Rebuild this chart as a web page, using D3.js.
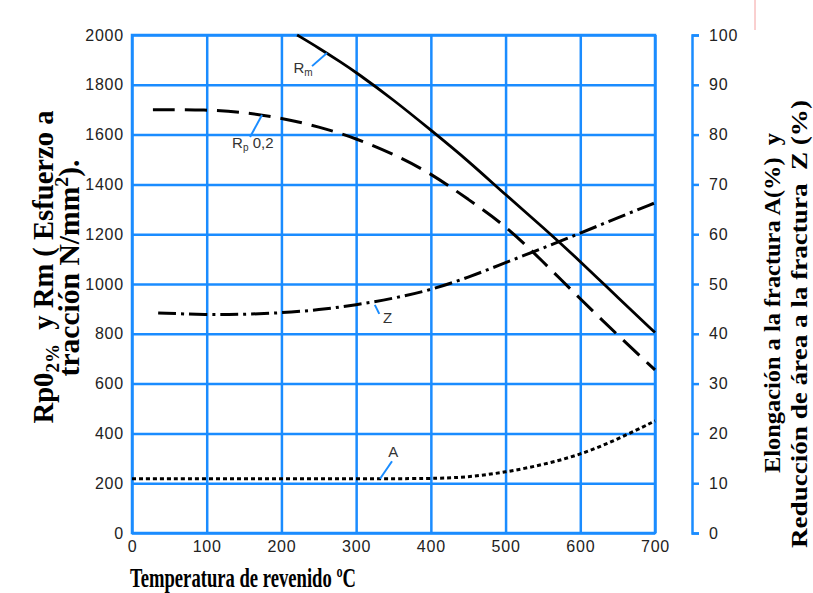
<!DOCTYPE html>
<html>
<head>
<meta charset="utf-8">
<script src="https://cdn.jsdelivr.net/npm/d3@7"></script>
<style>
  body { margin: 0; background: #fff; }
  text { font-family: "Liberation Sans", Arial, sans-serif; }
  .ttl { font-family: "Liberation Serif", "Times New Roman", serif; font-weight: bold; fill: #000; }
</style>
</head>
<body>
<script>
// ticks
var tempTicks = [0, 100, 200, 300, 400, 500, 600, 700];
var stressTicks = [0, 200, 400, 600, 800, 1000, 1200, 1400, 1600, 1800, 2000];
var pctTicks = [0, 10, 20, 30, 40, 50, 60, 70, 80, 90, 100];

// Rm (N/mm2), solid
var rmTemp = [221, 250, 280, 300, 350, 400, 450, 500, 550, 600, 650, 700];
var rmVals = [2000, 1948, 1890, 1850, 1740, 1618, 1495, 1358, 1228, 1091, 946, 805];

// Rp0,2 (N/mm2), dashed
var rpTemp = [28, 100, 150, 200, 250, 300, 350, 400, 450, 500, 550, 600, 650, 700];
var rpVals = [1700, 1700, 1690, 1667, 1632, 1585, 1522, 1445, 1340, 1235, 1090, 940, 795, 655];

// Z (%), dash-dot, right axis
var zTemp = [35, 100, 150, 200, 250, 300, 350, 400, 450, 500, 550, 600, 650, 700];
var zVals = [44.2, 43.8, 43.9, 44.2, 44.8, 45.8, 47.1, 48.8, 51.3, 54.3, 57.2, 60.2, 63.3, 66.3];

// A (%), dotted, right axis
var aTemp = [0, 100, 200, 300, 400, 450, 500, 550, 600, 650, 700];
var aVals = [10.9, 10.9, 10.9, 10.9, 10.9, 11.2, 12.2, 13.7, 15.7, 18.8, 22.5];

var W = 813, H = 593;
var svg = d3.select("body").append("svg").attr("width", W).attr("height", H);

var blue = "#1a8cff";
var x = d3.scaleLinear().domain([0, 700]).range([132, 655]);
var yL = d3.scaleLinear().domain([0, 2000]).range([533, 35]);
var yR = d3.scaleLinear().domain([0, 100]).range([533, 35]);
var fmt = d3.format("d");

// grid + tick labels
var gx = svg.append("g")
   .attr("transform", "translate(0,533)")
   .call(d3.axisBottom(x).tickValues(tempTicks).tickFormat(fmt)
         .tickSize(-(533 - 35)).tickSizeOuter(0).tickPadding(8));
var gy = svg.append("g")
   .attr("transform", "translate(132,0)")
   .call(d3.axisLeft(yL).tickValues(stressTicks).tickFormat(fmt)
         .tickSize(-(655 - 132)).tickSizeOuter(0).tickPadding(8));
[gx, gy].forEach(function(g) {
  g.select(".domain").remove();
  g.selectAll(".tick line").attr("stroke", blue).attr("stroke-width", 2.5);
  g.selectAll(".tick text").attr("fill", "#222").attr("font-size", "16px").attr("letter-spacing", "0.8px")
   .attr("font-family", "'Liberation Sans', Arial, sans-serif");
});

svg.append("rect")
   .attr("x", x(0)).attr("y", yL(2000))
   .attr("width", x(700) - x(0)).attr("height", yL(0) - yL(2000))
   .attr("fill", "none").attr("stroke", blue).attr("stroke-width", 2.5);

// right axis
var gr = svg.append("g")
   .attr("transform", "translate(692,0)")
   .call(d3.axisRight(yR).tickValues(pctTicks).tickFormat(fmt)
         .tickSize(7).tickSizeOuter(7).tickPadding(10));
gr.select(".domain").attr("stroke", blue).attr("stroke-width", 2.5);
gr.selectAll(".tick line").attr("stroke", blue).attr("stroke-width", 2.5);
gr.selectAll(".tick text").attr("fill", "#222").attr("font-size", "16px").attr("letter-spacing", "0.8px")
  .attr("font-family", "'Liberation Sans', Arial, sans-serif");

// curves
function drawCurve(ts, vs, ys, dash, w) {
  var line = d3.line()
     .x(function(d) { return x(d[0]); })
     .y(function(d) { return ys(d[1]); })
     .curve(d3.curveBasis);
  svg.append("path")
     .datum(d3.zip(ts, vs))
     .attr("d", line)
     .attr("fill", "none")
     .attr("stroke", "#000")
     .attr("stroke-width", w)
     .attr("stroke-dasharray", dash);
}
drawCurve(rmTemp, rmVals, yL, null, 2.8);
drawCurve(rpTemp, rpVals, yL, "22,10", 3);
drawCurve(zTemp, zVals, yR, "18,5,3,5", 3);
drawCurve(aTemp, aVals, yR, "4,3", 3);

// curve labels with leader lines (data units)
var labels = [
  { s: yL, t: "R", sub: "m", rest: "", tx: 216, ty: 1847, l: [241, 1875, 261, 1928] },
  { s: yL, t: "R", sub: "p", rest: " 0,2", tx: 134, ty: 1546, l: [158, 1590, 174, 1679] },
  { s: yR, t: "Z", sub: "", rest: "", tx: 336, ty: 42.2, l: [331, 44.0, 325, 45.8] },
  { s: yR, t: "A", sub: "", rest: "", tx: 343, ty: 15.3, l: [348, 14.4, 332, 10.9] }
];
labels.forEach(function(d) {
  svg.append("line")
     .attr("x1", x(d.l[0])).attr("y1", d.s(d.l[1]))
     .attr("x2", x(d.l[2])).attr("y2", d.s(d.l[3]))
     .attr("stroke", blue).attr("stroke-width", 2);
  var t = svg.append("text")
     .attr("x", x(d.tx)).attr("y", d.s(d.ty))
     .attr("font-size", "15px").attr("fill", "#333")
     .text(d.t);
  if (d.sub) t.append("tspan").attr("font-size", "10px").attr("dy", 3).text(d.sub);
  if (d.rest) t.append("tspan").attr("dy", -3).text(d.rest);
});

// shrink/grow a title so that it spans the given length
function fit(t, len) {
  var s = len / t.node().getComputedTextLength();
  t.attr("font-size", (parseFloat(t.attr("font-size")) * s) + "px");
  t.selectAll("tspan").each(function() {
    var ts = d3.select(this);
    if (ts.attr("font-size")) ts.attr("font-size", (parseFloat(ts.attr("font-size")) * s) + "px");
    if (ts.attr("dy")) ts.attr("dy", parseFloat(ts.attr("dy")) * s);
  });
}

// axis titles
svg.append("text").attr("class", "ttl")
   .attr("x", 130).attr("y", 587).attr("font-size", "27px")
   .attr("textLength", 226).attr("lengthAdjust", "spacingAndGlyphs")
   .text("Temperatura de revenido ºC");

var lt1 = svg.append("text").attr("class", "ttl")
   .attr("transform", "translate(53,267) rotate(-90)")
   .attr("text-anchor", "middle").attr("font-size", "24px");
lt1.append("tspan").text("Rp0");
lt1.append("tspan").attr("font-size", "16px").attr("dy", 5).text("2%");
lt1.append("tspan").attr("dy", -5).text("\u00a0 y Rm ( Esfuerzo a");
fit(lt1, 313);

var lt2 = svg.append("text").attr("class", "ttl")
   .attr("transform", "translate(79,268) rotate(-90)")
   .attr("text-anchor", "middle").attr("font-size", "24px");
lt2.append("tspan").text("tracción N/mm");
lt2.append("tspan").attr("font-size", "16px").attr("dy", -9).text("2");
lt2.append("tspan").attr("dy", 9).text(").");
fit(lt2, 217);

svg.append("text").attr("class", "ttl")
   .attr("transform", "translate(780,303) rotate(-90)")
   .attr("text-anchor", "middle").attr("font-size", "24px")
   .attr("textLength", 340).attr("lengthAdjust", "spacingAndGlyphs")
   .text("Elongación a la fractura A(%)\u00a0 y");
svg.append("text").attr("class", "ttl")
   .attr("transform", "translate(807,324) rotate(-90)")
   .attr("text-anchor", "middle").attr("font-size", "24px")
   .attr("textLength", 448).attr("lengthAdjust", "spacingAndGlyphs")
   .text("Reducción de área a la fractura\u00a0 Z (%)");

// small red mark at top right
svg.append("line")
   .attr("x1", 755).attr("y1", 0).attr("x2", 755).attr("y2", 30)
   .attr("stroke", "#f4a0a0").attr("stroke-width", 1);
</script>
</body>
</html>
